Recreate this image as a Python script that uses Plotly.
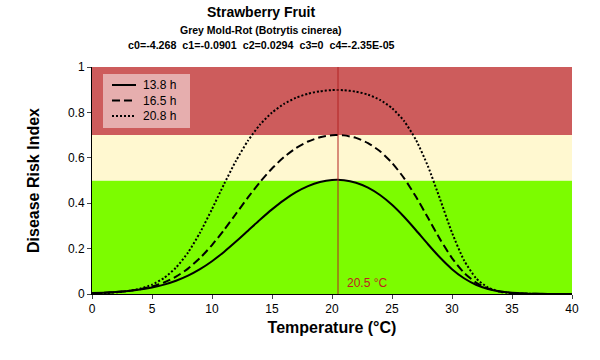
import plotly.graph_objects as go

temps = list(range(0, 41))
risk_13_8 = [0.0040, 0.0060, 0.0090, 0.0134, 0.0197, 0.0287, 0.0412, 0.0583, 0.0808, 0.1095,
             0.1445, 0.1854, 0.2309, 0.2790, 0.3271, 0.3728, 0.4138, 0.4483, 0.4751, 0.4932,
             0.5022, 0.5014, 0.4903, 0.4686, 0.4360, 0.3928, 0.3401, 0.2809, 0.2192, 0.1605,
             0.1095, 0.0694, 0.0409, 0.0224, 0.0114, 0.0054, 0.0024, 0.0010, 0.0004, 0.0001, 0.0000]
risk_16_5 = [0.0032, 0.0051, 0.0083, 0.0133, 0.0211, 0.0330, 0.0508, 0.0764, 0.1118, 0.1583,
             0.2156, 0.2820, 0.3535, 0.4255, 0.4932, 0.5531, 0.6032, 0.6427, 0.6717, 0.6906,
             0.6996, 0.6988, 0.6876, 0.6649, 0.6289, 0.5779, 0.5107, 0.4282, 0.3354, 0.2417,
             0.1583, 0.0938, 0.0503, 0.0246, 0.0110, 0.0045, 0.0017, 0.0006, 0.0002, 0.0001, 0.0000]
risk_20_8 = [0.0022, 0.0040, 0.0072, 0.0131, 0.0235, 0.0413, 0.0705, 0.1162, 0.1824, 0.2700,
             0.3739, 0.4835, 0.5870, 0.6756, 0.7461, 0.7992, 0.8375, 0.8644, 0.8823, 0.8932,
             0.8982, 0.8978, 0.8916, 0.8782, 0.8554, 0.8188, 0.7625, 0.6787, 0.5622, 0.4184,
             0.2701, 0.1485, 0.0698, 0.0285, 0.0103, 0.0034, 0.0010, 0.0003, 0.0001, 0.0000, 0.0000]
series_names = ["13.8 h", "16.5 h", "20.8 h"]
dash_styles = ["solid", "8px,4px", "2px,2px"]

band_edges = [0, 0.5, 0.7, 1.0]
band_colors = ["#7CFC00", "#FFF8D0", "#CD5C5C"]
opt_temp = 20.5

title_lines = ["Strawberry Fruit", "Grey Mold-Rot (Botrytis cinerea)",
               "c0=-4.268  c1=-0.0901  c2=0.0294  c3=0  c4=-2.35E-05"]

FONT = "Liberation Sans, Arial"
W, H = 600, 360
PL, PR, PT, PB = 92, 572, 67, 294   # plot area in pixels


def px_x(p):
    return (p - PL) / (PR - PL)


def px_y(p):
    return (PB - p) / (PB - PT)


fig = go.Figure()
for name, ys, dsh in zip(series_names, [risk_13_8, risk_16_5, risk_20_8], dash_styles):
    fig.add_trace(go.Scatter(x=temps, y=ys, mode="lines", name=name, showlegend=False, hoverinfo="skip",
                             line=dict(color="black", width=2, dash=dsh, shape="spline", smoothing=0.6)))

for i in range(3):
    fig.add_shape(type="rect", xref="x", yref="y", x0=0, x1=40, y0=band_edges[i], y1=band_edges[i + 1],
                  fillcolor=band_colors[i], line=dict(width=0), layer="below")

fig.add_shape(type="line", xref="x", yref="y", x0=opt_temp, x1=opt_temp, y0=0, y1=1,
              line=dict(color="#B22222", width=1))
fig.add_annotation(x=opt_temp, y=0, xref="x", yref="y", text="20.5 °C", showarrow=False,
                   xanchor="left", yanchor="bottom", xshift=7, yshift=2,
                   font=dict(family=FONT, size=12, color="#C02020"))

# titles
tx = px_x(261)
for txt, ypix, size in zip(title_lines, [12, 30, 45], [14, 10.5, 10.7]):
    fig.add_annotation(x=tx, y=px_y(ypix), xref="paper", yref="paper", text="<b>" + txt + "</b>",
                       showarrow=False, yanchor="middle",
                       font=dict(family=FONT, size=size, color="black"))

# custom legend
fig.add_shape(type="rect", xref="paper", yref="paper", x0=px_x(103), x1=px_x(190), y0=px_y(128), y1=px_y(74),
              fillcolor="rgba(255,255,255,0.5)", line=dict(width=0))
for name, dsh, ypix in zip(series_names, dash_styles, [85, 100.5, 116]):
    fig.add_shape(type="line", xref="paper", yref="paper", x0=px_x(112), x1=px_x(136),
                  y0=px_y(ypix), y1=px_y(ypix), line=dict(color="black", width=2, dash=dsh))
    fig.add_annotation(x=px_x(141), y=px_y(ypix), xref="paper", yref="paper", text=name, showarrow=False,
                       xanchor="left", yanchor="middle", font=dict(family=FONT, size=12, color="black"))

fig.update_layout(
    width=W, height=H,
    margin=dict(l=PL, r=W - PR, t=PT, b=H - PB),
    paper_bgcolor="white", plot_bgcolor="white",
    font=dict(family=FONT, size=12, color="black"),
    showlegend=False,
    xaxis=dict(range=[0, 40], tickvals=[0, 5, 10, 15, 20, 25, 30, 35, 40], showgrid=False, zeroline=False,
               showline=True, linecolor="black", linewidth=1, ticks="outside", ticklen=4,
               title=dict(text="<b>Temperature (°C)</b>", font=dict(size=16), standoff=6)),
    yaxis=dict(range=[0, 1], tickvals=[0, 0.2, 0.4, 0.6, 0.8, 1], ticktext=["0", "0.2", "0.4", "0.6", "0.8", "1"],
               showgrid=False, zeroline=False,
               showline=True, linecolor="black", linewidth=1, ticks="outside", ticklen=4,
               title=dict(text="<b>Disease Risk Index</b>", font=dict(size=16), standoff=24)),
)

fig.write_html("out.html", config={"displayModeBar": False},
               post_script="document.body.style.margin='0';")
